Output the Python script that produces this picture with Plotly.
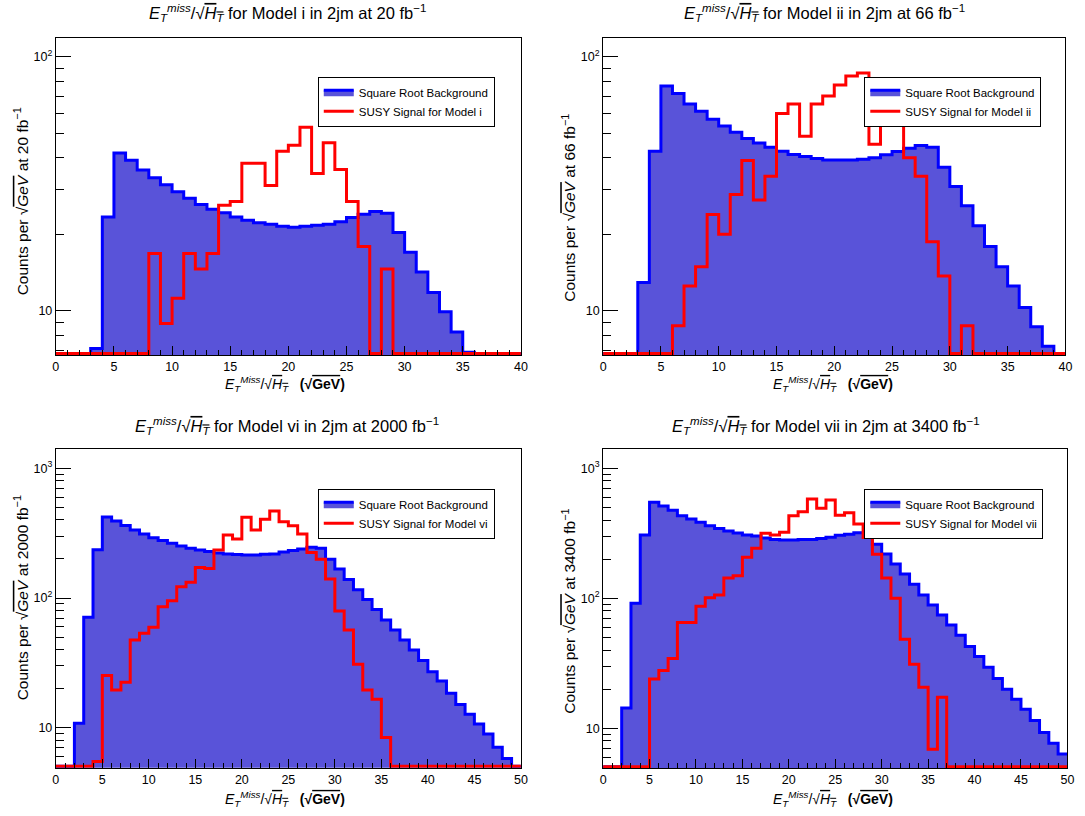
import numpy as np
import plotly.graph_objects as go

W, H = 1085, 816
FONT = "Liberation Sans"

# Bin contents per 1 sqrt(GeV) bin, starting at 0 (index = lower bin edge)
bkg_i = [0, 0, 0, 7.1, 23.4, 41.8, 39.1, 35.8, 33.4, 31.3,
         29.4, 27.7, 26.2, 25.1, 24.3, 23.4, 22.7, 22.2, 21.9, 21.5,
         21.3, 21.5, 21.7, 21.9, 22.4, 23.3, 24.0, 24.6, 24.2, 20.3,
         17.0, 14.2, 11.8, 9.9, 8.24, 6.86, 0, 0, 0, 0]
sig_i = [0, 0, 0, 0, 0, 0, 0, 0, 16.8, 8.9,
         11.2, 16.8, 14.6, 16.8, 26.0, 26.9, 38.1, 38.1, 31.1, 42.4,
         44.8, 52.7, 34.7, 45.8, 36.0, 26.9, 17.9, 0, 14.6, 0,
         0, 0, 0, 0, 0, 0, 0, 0, 0, 0]

bkg_ii = [0, 0, 0, 12.9, 42.4, 76.6, 71.7, 65.2, 61.0, 56.7,
          53.4, 50.4, 47.6, 45.7, 44.0, 42.4, 41.2, 40.5, 39.7, 39.2,
          39.2, 39.2, 39.5, 40.0, 41.1, 42.3, 43.6, 44.7, 44.0, 36.7,
          30.8, 25.9, 21.6, 17.9, 14.9, 12.5, 10.3, 8.65, 7.24, 0]
sig_ii = [0, 0, 0, 0, 0, 0, 8.73, 12.5, 14.9, 23.9,
          20.0, 28.7, 39.0, 27.3, 33.8, 59.8, 65.2, 48.6, 65.2, 70.0,
          77.3, 83.9, 86.3, 45.2, 65.0, 56.7, 40.0, 33.8, 18.7, 13.7,
          0, 8.73, 0, 0, 0, 0, 0, 0, 0, 0]

bkg_vi = [0, 0, 10.8, 71, 236, 421, 393, 363, 334, 312,
          292, 277, 264, 252, 242, 234, 228, 222, 218, 216,
          215, 215, 217, 218, 226, 232, 239, 246, 242, 199,
          167, 139, 116, 97.5, 81.7, 67.6, 56.6, 47.4, 39.7, 32.9,
          27.0, 22.9, 18.4, 15.1, 12.7, 10.7, 8.94, 7.06, 5.8, 0]
sig_vi = [0, 0, 0, 0, 5.5, 25.3, 19.5, 22.4, 47.4, 53.4,
          59.4, 85.7, 95.3, 122, 132, 172, 169, 234, 306, 285,
          419, 335, 404, 469, 388, 361, 312, 224, 199, 140,
          79.4, 56.6, 30.8, 19.5, 16.6, 8.4, 0, 0, 0, 0,
          0, 0, 0, 0, 0, 0, 0, 0, 0, 0]

bkg_vii = [0, 0, 14.3, 91.6, 307, 548, 513, 475, 432, 407,
           384, 362, 345, 330, 318, 307, 301, 291, 284, 281,
           281, 284, 284, 288, 295, 305, 311, 320, 320, 260,
           219, 184, 154, 128, 106, 88.9, 74.5, 62.3, 51.9, 42.5,
           35.6, 29.5, 24.1, 20.0, 16.7, 14.0, 11.5, 9.27, 7.67, 6.35]
sig_vii = [0, 0, 0, 0, 0, 23.9, 27.8, 34.4, 65, 65,
           86.8, 101, 106, 143, 149, 207, 243, 316, 307, 322,
           432, 464, 581, 493, 571, 435, 456, 373, 294, 218,
           143, 100, 48.4, 31.1, 20.7, 6.9, 17.3, 0, 0, 0,
           0, 0, 0, 0, 0, 0, 0, 0, 0, 0]

models = ["i", "ii", "vi", "vii"]
lumis = ["20", "66", "2000", "3400"]
backgrounds = [bkg_i, bkg_ii, bkg_vi, bkg_vii]
signals = [sig_i, sig_ii, sig_vi, sig_vii]
x_max = [40, 40, 50, 50]
y_log_range = [(0.8256, 2.0736), (0.8256, 2.0736), (0.6916, 3.1465), (0.692, 3.1465)]

# Frame boxes in pixels: left, top, right, bottom
frames = [(53.3, 38, 522.7, 355), (605.7, 38, 1072.3, 355),
          (53.3, 449.3, 522.7, 767.7), (605.7, 449.3, 1074.3, 768.3)]
legend_pos = [(317.7, 76.7), (869.3, 76.7), (317.7, 488.7), (869.3, 488.7)]
title_pos = [(287, 13), (829, 13), (287, 426), (831, 426)]
xtitle_pos = [(285, 384), (838, 384), (285, 799), (838, 799)]
ytitle_pos = [(18.5, 201), (571, 208), (18.5, 598), (571, 611)]

BLUE_LINE = "#0000ff"
BLUE_FILL = "#5953d9"
RED = "#ff0000"

OVL = '<span style="text-decoration:overline">{}</span>'
ETMISS = "<i>E</i><sub><i>T</i></sub><sup><i>{}</i></sup>/√" + OVL.format("<i>H</i><sub><i>T</i></sub>")


def px_x(v):
    return v / W


def px_y(v):
    return 1 - v / H


fig = go.Figure()
annotations = []
layout = dict(width=W, height=H, margin=dict(l=0, r=0, t=0, b=0),
              paper_bgcolor="white", plot_bgcolor="white",
              font=dict(family=FONT, color="black"))

for k in range(4):
    sfx = "" if k == 0 else str(k + 1)
    leg = "legend" if k == 0 else "legend" + str(k + 1)
    lo, hi = y_log_range[k]
    px_per_dec = (frames[k][3] - frames[k][1]) / (hi - lo)
    floor = 10 ** (lo + 1.5 / px_per_dec)
    edges = np.arange(x_max[k] + 1, dtype=float)

    def step_y(vals):
        v = np.asarray(vals, dtype=float)
        v = np.where(v > 0, v, floor)
        return np.append(v, v[-1])

    fig.add_trace(go.Scatter(
        x=edges, y=step_y(backgrounds[k]), mode="lines",
        line=dict(color=BLUE_LINE, width=3, shape="hv"),
        fill="tozeroy", fillcolor=BLUE_FILL,
        name="Square Root Background", legend=leg,
        xaxis="x" + sfx, yaxis="y" + sfx, hoverinfo="skip"))
    fig.add_trace(go.Scatter(
        x=edges, y=step_y(signals[k]), mode="lines",
        line=dict(color=RED, width=3, shape="hv"),
        name="SUSY Signal for Model " + models[k], legend=leg,
        xaxis="x" + sfx, yaxis="y" + sfx, hoverinfo="skip"))

    l, t, r, b = frames[k]
    decades = [10 ** d for d in range(1, int(np.floor(hi)) + 1)]
    tick_text = ["10" if d == 10 else "10<sup>%d</sup>" % int(round(np.log10(d))) for d in decades]
    minor_vals = []
    for d in range(0, int(np.floor(hi)) + 1):
        for m in range(2, 10):
            val = m * 10 ** d
            if lo < np.log10(val) < hi:
                minor_vals.append(val)

    layout["xaxis" + sfx] = dict(
        domain=[px_x(l), px_x(r)], anchor="y" + sfx, range=[0, x_max[k]],
        tickmode="linear", tick0=0, dtick=5, ticks="inside", ticklen=9,
        tickwidth=1, tickcolor="black",
        minor=dict(ticks="inside", dtick=1, tick0=0, ticklen=5, tickwidth=1, tickcolor="black"),
        showline=True, mirror=True, linecolor="black", linewidth=1,
        showgrid=False, zeroline=False, layer="above traces",
        tickfont=dict(size=12.5, family=FONT, color="black"))
    layout["yaxis" + sfx] = dict(
        domain=[px_y(b), px_y(t)], anchor="x" + sfx, type="log", range=[lo, hi],
        tickmode="array", tickvals=decades, ticktext=tick_text,
        ticks="inside", ticklen=15, tickwidth=1, tickcolor="black",
        minor=dict(tickmode="array", tickvals=minor_vals, ticks="inside",
                   ticklen=8, tickwidth=1, tickcolor="black"),
        showline=True, mirror=True, linecolor="black", linewidth=1,
        showgrid=False, zeroline=False, layer="above traces",
        tickfont=dict(size=12.5, family=FONT, color="black"))

    lx, ly = legend_pos[k]
    layout[leg] = dict(x=px_x(lx), y=px_y(ly), xanchor="left", yanchor="top",
                       bgcolor="white", bordercolor="black", borderwidth=1,
                       font=dict(size=11.5, family=FONT, color="black"),
                       tracegroupgap=0, itemwidth=30)

    tx, ty = title_pos[k]
    annotations.append(dict(
        x=px_x(tx), y=px_y(ty), xref="paper", yref="paper", showarrow=False,
        xanchor="center", yanchor="middle",
        text=ETMISS.format("miss") + " for Model " + models[k] + " in 2jm at " + lumis[k] + " fb<sup>−1</sup>",
        font=dict(size=16.5, family=FONT, color="black")))
    xx, xy = xtitle_pos[k]
    annotations.append(dict(
        x=px_x(xx), y=px_y(xy), xref="paper", yref="paper", showarrow=False,
        xanchor="center", yanchor="middle",
        text=ETMISS.format("Miss") + "   <b>(√" + OVL.format("GeV") + ")</b>",
        font=dict(size=14, family=FONT, color="black")))
    yx, yy = ytitle_pos[k]
    annotations.append(dict(
        x=px_x(yx), y=px_y(yy), xref="paper", yref="paper", showarrow=False,
        xanchor="center", yanchor="middle", textangle=-90,
        text="Counts per √" + OVL.format("<i>GeV</i>") + " at " + lumis[k] + " fb<sup>−1</sup>",
        font=dict(size=15.5, family=FONT, color="black")))

layout["annotations"] = annotations
fig.update_layout(**layout)
fig.write_html("out.html")
